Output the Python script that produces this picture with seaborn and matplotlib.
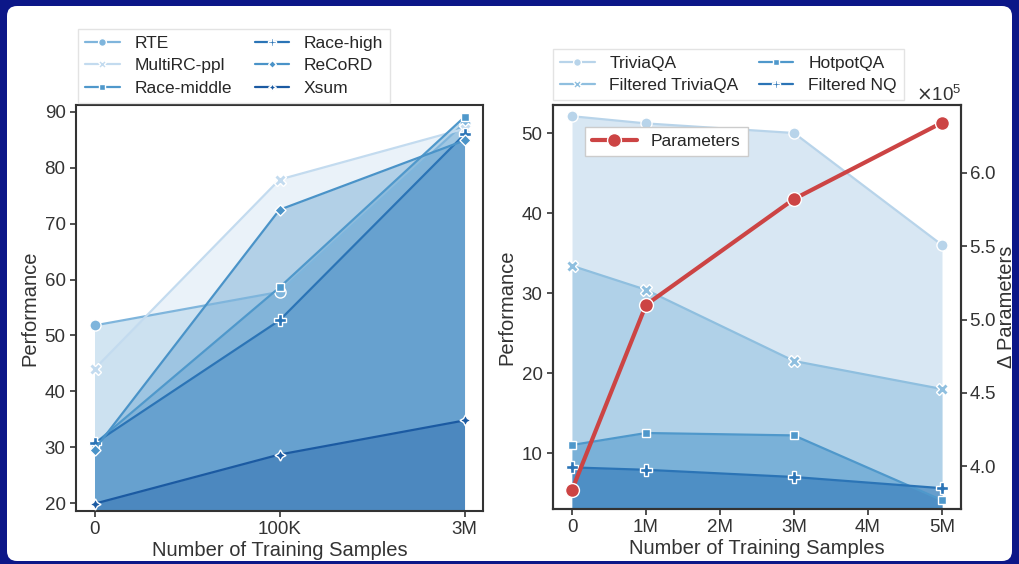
import numpy as np
import pandas as pd
import matplotlib
matplotlib.use("Agg")
import matplotlib.pyplot as plt
from matplotlib.patches import FancyBboxPatch
from matplotlib.transforms import IdentityTransform
from matplotlib.ticker import ScalarFormatter
import seaborn as sns

# Left panel: reading comprehension / summarisation tasks
left_tasks = ["RTE", "MultiRC-ppl", "Race-middle", "Race-high", "ReCoRD", "Xsum"]
left_xlabels = ["0", "100K", "3M"]
left_x = [0, 1, 2]
rte = [51.8, 57.8, 88.0]
multirc = [44.0, 77.9, 87.0]
race_middle = [30.6, 58.6, 89.1]
race_high = [30.7, 52.7, 86.0]
record = [29.6, 72.5, 84.9]
xsum = [19.9, 28.7, 34.8]

# Right panel: QA tasks + parameter count
right_tasks = ["TriviaQA", "Filtered TriviaQA", "HotpotQA", "Filtered NQ"]
right_x = [0, 1, 3, 5]  # millions of samples
right_xticks = [0, 1, 2, 3, 4, 5]
right_xlabels = ["0", "1M", "2M", "3M", "4M", "5M"]
triviaqa = [52.1, 51.2, 50.0, 36.0]
filtered_triviaqa = [33.4, 30.4, 21.5, 18.0]
hotpotqa = [11.0, 12.5, 12.2, 4.1]
filtered_nq = [8.2, 7.9, 7.0, 5.6]
parameters = [3.84e5, 5.10e5, 5.82e5, 6.34e5]

left_colors = {"RTE": "#7fb5dc", "MultiRC-ppl": "#c3dbef", "Race-middle": "#4f98cb",
               "Race-high": "#2b74b6", "ReCoRD": "#4a93c8", "Xsum": "#1b5aa2"}
right_colors = {"TriviaQA": "#b8d4ea", "Filtered TriviaQA": "#8fbfdf",
                "HotpotQA": "#4f98cb", "Filtered NQ": "#2b74b6"}
markers = ["o", "X", (4, 0, 45), "P", (4, 0, 0), (4, 1, 0)]

sns.set_theme(style="ticks")
plt.rcParams["font.family"] = ["Liberation Sans", "DejaVu Sans"]
plt.rcParams["axes.edgecolor"] = "#333333"
plt.rcParams["axes.linewidth"] = 1.5

fig = plt.figure(figsize=(10.19, 5.64), dpi=100, facecolor="#0c1788")
fig.patches.append(FancyBboxPatch((7, 3), 1005, 555, boxstyle="round,pad=0,rounding_size=10",
                                  transform=IdentityTransform(), facecolor="white",
                                  edgecolor="none", zorder=-5))

# ---------- left panel ----------
ax1 = fig.add_axes([0.0746, 0.094, 0.3994, 0.7199])
left_vals = [rte, multirc, race_middle, race_high, record, xsum]
df_left = pd.DataFrame({
    "x": np.tile(left_x, len(left_tasks)),
    "Performance": np.concatenate(left_vals),
    "task": np.repeat(left_tasks, len(left_x)),
})
for t, v in zip(left_tasks, left_vals):
    ax1.fill_between(left_x, v, 0, color=left_colors[t], alpha=0.35, lw=0, zorder=1)
sns.lineplot(data=df_left, x="x", y="Performance", hue="task", style="task",
             palette=left_colors, markers=dict(zip(left_tasks, markers)), dashes=False,
             markersize=8, markeredgecolor="white", markeredgewidth=1, lw=1.6,
             ax=ax1, zorder=3)
ax1.set_xlim(-0.1, 2.1)
ax1.set_ylim(18.6, 91.25)
ax1.set_xticks(left_x)
ax1.set_xticklabels(left_xlabels)
ax1.set_yticks([20, 30, 40, 50, 60, 70, 80, 90])
ax1.tick_params(labelsize=13.5, length=4, width=1.2, colors="#333333", labelcolor="#333333")
ax1.set_xlabel("Number of Training Samples", fontsize=14.5, color="#333333", labelpad=2)
ax1.set_ylabel("Performance", fontsize=14.5, color="#333333", labelpad=4)
h, l = ax1.get_legend_handles_labels()
ax1.legend(h, l, ncol=2, loc="lower left", bbox_to_anchor=(0.005, 1.006), borderaxespad=0,
           fontsize=12.5, handlelength=2.0, handletextpad=0.85, columnspacing=1.3,
           labelspacing=0.4, markerscale=0.7, frameon=True, edgecolor="#dddddd", fancybox=False)

# ---------- right panel ----------
ax2 = fig.add_axes([0.5427, 0.0975, 0.4004, 0.7163])
right_vals = [triviaqa, filtered_triviaqa, hotpotqa, filtered_nq]
df_right = pd.DataFrame({
    "x": np.tile(right_x, len(right_tasks)),
    "Performance": np.concatenate(right_vals),
    "task": np.repeat(right_tasks, len(right_x)),
})
for t, v in zip(right_tasks, right_vals):
    ax2.fill_between(right_x, v, 0, color=right_colors[t], alpha=0.55, lw=0, zorder=1)
sns.lineplot(data=df_right, x="x", y="Performance", hue="task", style="task",
             palette=right_colors, markers=dict(zip(right_tasks, markers[:4])), dashes=False,
             markersize=8, markeredgecolor="white", markeredgewidth=1, lw=1.6,
             ax=ax2, zorder=3)
ax2.set_xlim(-0.257, 5.257)
ax2.set_ylim(3.0, 53.5)
ax2.set_xticks(right_xticks)
ax2.set_xticklabels(right_xlabels)
ax2.set_yticks([10, 20, 30, 40, 50])
ax2.tick_params(labelsize=13.5, length=4, width=1.2, colors="#333333", labelcolor="#333333")
ax2.set_xlabel("Number of Training Samples", fontsize=14.5, color="#333333", labelpad=2)
ax2.set_ylabel("Performance", fontsize=14.5, color="#333333", labelpad=4)
h, l = ax2.get_legend_handles_labels()
ax2.legend(h, l, ncol=2, loc="lower left", bbox_to_anchor=(0.0, 1.012), borderaxespad=0,
           fontsize=12.5, handlelength=2.0, handletextpad=0.85, columnspacing=1.15,
           labelspacing=0.4, markerscale=0.7, frameon=True, edgecolor="#dddddd", fancybox=False)

ax3 = ax2.twinx()
df_par = pd.DataFrame({"x": right_x, "Parameters": parameters, "task": "Parameters"})
sns.lineplot(data=df_par, x="x", y="Parameters", hue="task", palette={"Parameters": "#cc4444"},
             marker="o", markersize=10, markeredgecolor="white", markeredgewidth=1,
             lw=3, ax=ax3)
ax3.set_ylim(3.71e5, 6.46e5)
ax3.set_yticks([4.0e5, 4.5e5, 5.0e5, 5.5e5, 6.0e5])
fmt = ScalarFormatter(useMathText=True)
fmt.set_powerlimits((0, 0))
ax3.yaxis.set_major_formatter(fmt)
ax3.yaxis.get_offset_text().set_fontsize(13.5)
ax3.yaxis.get_offset_text().set_color("#333333")
ax3.tick_params(labelsize=13.5, length=4, width=1.2, pad=2, colors="#333333", labelcolor="#333333")
ax3.set_ylabel("Δ Parameters", fontsize=14.5, color="#333333", labelpad=0)
h, l = ax3.get_legend_handles_labels()
ax3.legend(h, l, loc="upper left", bbox_to_anchor=(0.078, 0.945), borderaxespad=0,
           fontsize=12.5, handlelength=2.6, frameon=True, edgecolor="#cccccc",
           fancybox=False, framealpha=1)

fig.savefig("out.png", dpi=100, facecolor=fig.get_facecolor())
